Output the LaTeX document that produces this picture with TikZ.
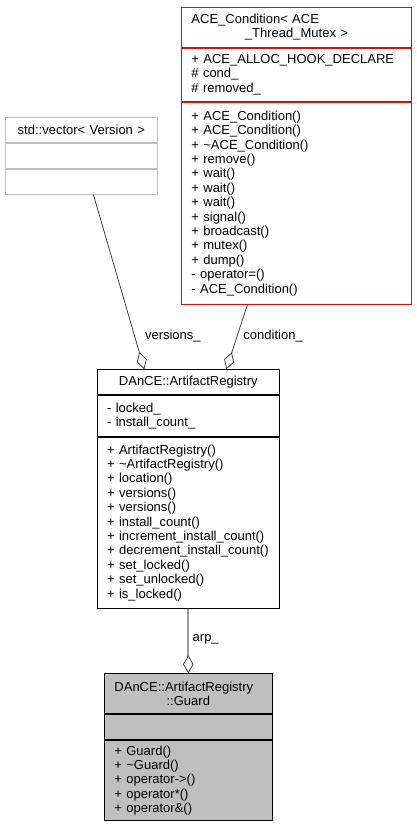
\documentclass[tikz,border=0pt]{standalone}
\usepackage{fontspec}
\setmainfont{Liberation Sans}
\usetikzlibrary{positioning,arrows.meta}
\definecolor{edgedark}{HTML}{404040}
\definecolor{edgegray}{HTML}{9A9A9A}
\definecolor{boxgray}{HTML}{BFBFBF}
\tikzset{
node distance=0pt,
part/.style={draw, rectangle, line width=0.9pt, inner xsep=10pt, inner ysep=1pt, align=left},
condpart/.style={part, draw=red, text width=210pt, minimum width=230pt},
vecpart/.style={part, draw=boxgray, text width=132.3pt, minimum width=152.3pt, minimum height=25.3pt},
regpart/.style={part, text width=162.3pt, minimum width=182.3pt},
guardpart/.style={part, fill=boxgray, text width=147.7pt, minimum width=167.7pt},
member/.style={draw=edgedark, line width=0.8pt, -{Diamond[open, length=18pt, width=10.5pt]}},
owner/.style={draw=edgegray, line width=1.8pt, -{Diamond[open, length=18pt, width=10.5pt, line width=0.8pt 0, color=edgedark]}},
lbl/.style={anchor=west, inner sep=0pt},
}

\begin{document}
\begin{tikzpicture}[x=1pt, y=-1pt, font=\fontsize{13}{14.4}\selectfont]
    \useasboundingbox (0,0) rectangle (416,829);

    \node[condpart, minimum height=39.7pt, anchor=north west] (condh) at (181,7) {ACE\_Condition< ACE\\\makebox[\hsize]{\_Thread\_Mutex >}};
    \node[condpart, minimum height=53.3pt, below=of condh] (conda) {+ ACE\_ALLOC\_HOOK\_DECLARE\\\# cond\_\\\# removed\_};
    \node[condpart, minimum height=202pt, below=of conda] (condm) {+ ACE\_Condition()\\+ ACE\_Condition()\\+ \textasciitilde ACE\_Condition()\\+ remove()\\+ wait()\\+ wait()\\+ wait()\\+ signal()\\+ broadcast()\\+ mutex()\\+ dump()\\- operator=()\\- ACE\_Condition()};

    \node[vecpart, align=center, anchor=north west] (vech) at (4.7,116.7) {std::vector< Version >};
    \node[vecpart, below=of vech] (veca) {};
    \node[vecpart, minimum height=24.7pt, below=of veca] (vecm) {};

    \node[regpart, align=center, minimum height=25pt, anchor=north west] (regh) at (96.7,369.3) {DAnCE::ArtifactRegistry};
    \node[regpart, minimum height=40.7pt, below=of regh] (rega) {- locked\_\\- install\_count\_};
    \node[regpart, minimum height=171pt, below=of rega] (regm) {+ ArtifactRegistry()\\+ \textasciitilde ArtifactRegistry()\\+ location()\\+ versions()\\+ versions()\\+ install\_count()\\+ increment\_install\_count()\\+ decrement\_install\_count()\\+ set\_locked()\\+ set\_unlocked()\\+ is\_locked()};

    \node[guardpart, minimum height=40pt, anchor=north west] (guardh) at (104,673.3) {DAnCE::ArtifactRegistry\\\makebox[\hsize]{::Guard}};
    \node[guardpart, minimum height=25pt, below=of guardh] (guarda) {};
    \node[guardpart, minimum height=80pt, below=of guarda] (guardm) {+ Guard()\\+ \textasciitilde Guard()\\+ operator->()\\+ operator*()\\+ operator\&()};

    \draw[member] ([xshift=12.1pt]vecm.south) -- node[lbl, pos=0.81, xshift=10pt] {versions\_} ([xshift=-44pt]regh.north);
    \draw[member] ([xshift=-49pt]condm.south) -- node[lbl, pos=0.49, xshift=6pt] {condition\_} ([xshift=38pt]regh.north);
    \draw[owner] (regm.south) -- node[lbl, pos=0.48, xshift=3.5pt] {arp\_} (guardh.north);

\end{tikzpicture}
\end{document}
